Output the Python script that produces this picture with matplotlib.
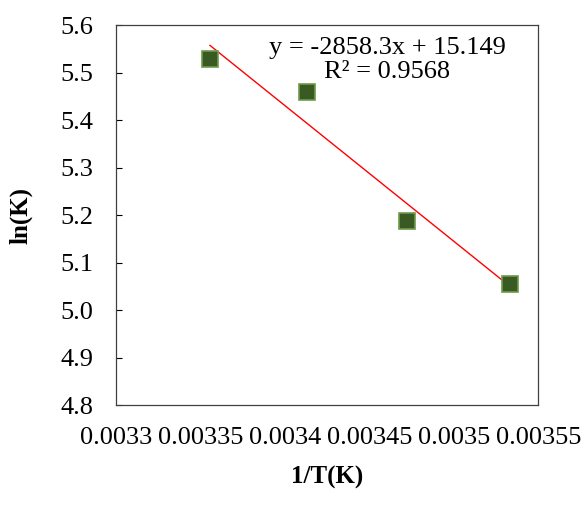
import matplotlib
matplotlib.use("Agg")
import matplotlib.pyplot as plt
import numpy as np

# 1/T and ln(K) points
inv_t = [1 / 298, 1 / 293, 1 / 288, 1 / 283]
ln_k = [5.528, 5.459, 5.187, 5.055]

# linear trendline as printed on the chart
slope = -2858.3
intercept = 15.149
r2 = 0.9568

x_ticks = [0.0033, 0.00335, 0.0034, 0.00345, 0.0035, 0.00355]
x_labels = ["0.0033", "0.00335", "0.0034", "0.00345", "0.0035", "0.00355"]
y_ticks = [4.8, 4.9, 5.0, 5.1, 5.2, 5.3, 5.4, 5.5, 5.6]

plt.rcParams["font.family"] = ["Liberation Serif", "DejaVu Serif"]

fig = plt.figure(figsize=(5.85, 5.13), dpi=100)
ax = fig.add_axes([0.198, 0.2105, 0.722, 0.7405])

ax.plot(inv_t, ln_k, "s", markersize=12, markerfacecolor="#3a5a23",
        markeredgecolor="#6e9a4a", markeredgewidth=1.2, zorder=3)

xs = np.array([inv_t[0], inv_t[-1]])
ax.plot(xs, slope * xs + intercept, color="#ff0000", linewidth=1.0, zorder=2)

ax.text(0.643, 0.97, f"y = {slope}x + {intercept}\nR\u00b2 = {r2}",
        transform=ax.transAxes, ha="center", va="top", fontsize=19,
        linespacing=1.15)

ax.set_xlim(0.0033, 0.00355)
ax.set_ylim(4.8, 5.6)
ax.set_xticks(x_ticks)
ax.set_xticklabels(x_labels)
ax.set_yticks(y_ticks)
ax.set_yticklabels([f"{v:.1f}" for v in y_ticks])

ax.tick_params(axis="y", direction="in", length=4, width=0.8, labelsize=19, pad=16)
ax.tick_params(axis="x", length=0, labelsize=19, pad=16)

for s in ax.spines.values():
    s.set_color("#404040")
    s.set_linewidth(0.9)

ax.set_xlabel("1/T(K)", fontsize=18, fontweight="bold", labelpad=12)
ax.set_ylabel("ln(K)", fontsize=18, fontweight="bold", labelpad=20)

fig.savefig("out.png", dpi=100)
